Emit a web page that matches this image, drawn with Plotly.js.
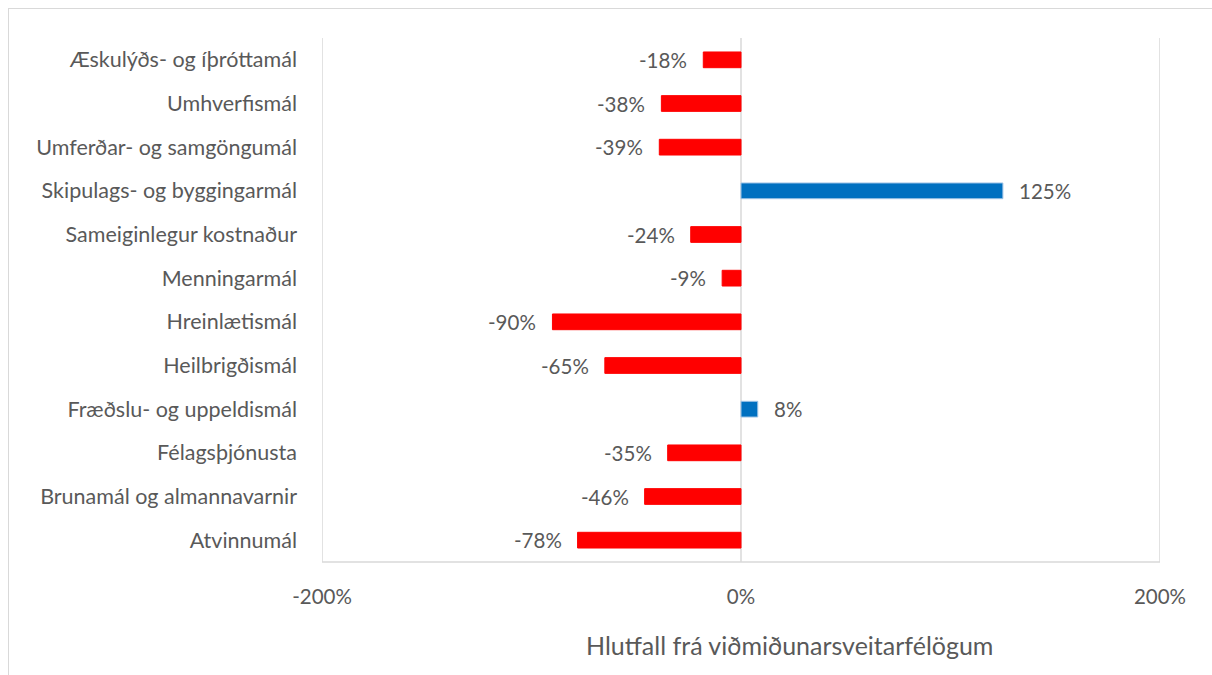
<!DOCTYPE html>
<html>
<head>
<meta charset="utf-8">
<script src="https://cdn.plot.ly/plotly-3.0.1.min.js"></script>
<style>
  html, body { margin: 0; padding: 0; background: #fff; }
  #wrap { position: relative; width: 1212px; height: 675px; overflow: hidden; }
  #chart { position: absolute; left: 0; top: 0; width: 1212px; height: 675px; }
  #frame { position: absolute; left: 8px; top: 8px; width: 1300px; height: 800px;
           border-top: 1.5px solid #d9d9d9; border-left: 1.5px solid #d9d9d9; pointer-events: none; }
</style>
</head>
<body>
<div id="wrap"><div id="chart"></div><div id="frame"></div></div>
<script>
// Categories listed top to bottom
const categories = [
  "Æskulýðs- og íþróttamál",
  "Umhverfismál",
  "Umferðar- og samgöngumál",
  "Skipulags- og byggingarmál",
  "Sameiginlegur kostnaður",
  "Menningarmál",
  "Hreinlætismál",
  "Heilbrigðismál",
  "Fræðslu- og uppeldismál",
  "Félagsþjónusta",
  "Brunamál og almannavarnir",
  "Atvinnumál"
];
const values = [-18, -38, -39, 125, -24, -9, -90, -65, 8, -35, -46, -78];
const tickValues = [-200, 0, 200];
const tickLabels = ["-200%", "0%", "200%"];
const axisTitle = "Hlutfall frá viðmiðunarsveitarfélögum";

const RED = "#FF0000", BLUE = "#0070C0";
const colors = values.map(v => v < 0 ? RED : BLUE);
const lineColors = values.map(v => v < 0 ? RED : "#9DC3E6");

const FONT = "Lato, 'Open Sans', sans-serif";
const TXT = "#595959";
const GRID = "#d9d9d9";

const trace = {
  type: "bar",
  orientation: "h",
  x: values,
  y: categories,
  marker: { color: colors, line: { color: lineColors, width: 1 } },
  hoverinfo: "x+y"
};

const annotations = values.map((v, i) => ({
  x: v, y: categories[i], xref: "x", yref: "y",
  text: v + "%", showarrow: false,
  xanchor: v < 0 ? "right" : "left",
  xshift: v < 0 ? -14 : 14,
  font: { family: FONT, size: 20.5, color: TXT }
}));
annotations.push({
  xref: "paper", yref: "paper", x: 0.558, y: -0.158,
  xanchor: "center", yanchor: "middle", showarrow: false,
  text: axisTitle,
  font: { family: FONT, size: 25, color: TXT }
});

// vertical gridlines at each tick (Plotly omits those at the range ends)
const gridShapes = tickValues.map(t => ({
  type: "line", xref: "x", yref: "paper",
  x0: t, x1: t, y0: 0, y1: 1,
  line: { color: GRID, width: 1.5 }, layer: "below"
}));
gridShapes.push({
  type: "line", xref: "paper", yref: "paper",
  x0: 0, x1: 1, y0: 0, y1: 0,
  line: { color: GRID, width: 1.5 }, layer: "below"
});

const layout = {
  width: 1212, height: 675,
  margin: { l: 322, r: 52, t: 38, b: 113 },
  paper_bgcolor: "#fff", plot_bgcolor: "#fff",
  showlegend: false,
  bargap: 0.64,
  xaxis: {
    range: [-200, 200],
    tickvals: tickValues, ticktext: tickLabels,
    showgrid: false, zeroline: false,
    showline: false, ticks: "", ticklabelstandoff: 20,
    tickfont: { family: FONT, size: 20.5, color: TXT },
    fixedrange: true
  },
  yaxis: {
    type: "category", autorange: "reversed",
    showgrid: false, zeroline: false, showline: false, ticks: "",
    ticklabelstandoff: 24,
    tickfont: { family: FONT, size: 21.5, color: TXT },
    fixedrange: true
  },
  shapes: gridShapes,
  annotations: annotations
};

Plotly.newPlot("chart", [trace], layout, { displayModeBar: false, staticPlot: true });
</script>
</body>
</html>
